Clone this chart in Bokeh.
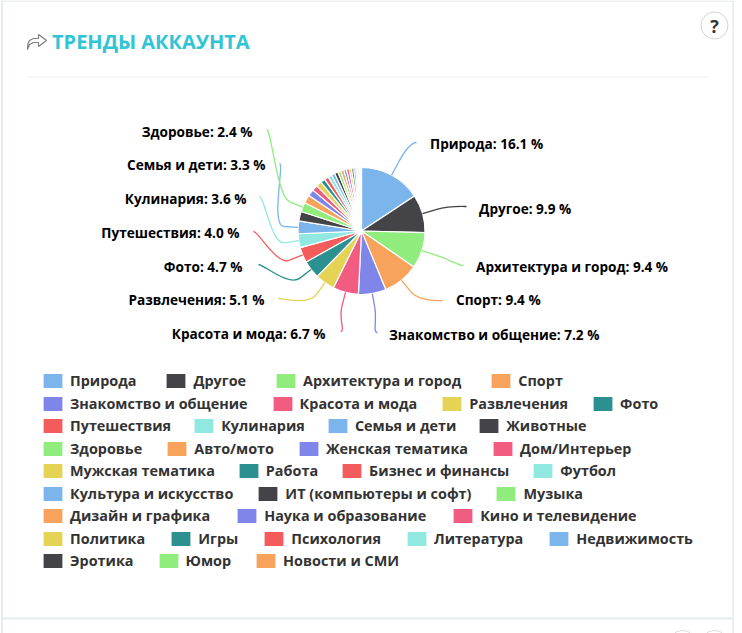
import math
from bokeh.embed import file_html
from bokeh.resources import INLINE
from bokeh.plotting import figure
from bokeh.models import Range1d, ColumnDataSource, Legend, LegendItem
from bokeh.core.properties import value

categories = ["Природа","Другое","Архитектура и город","Спорт","Знакомство и общение","Красота и мода",
    "Развлечения","Фото","Путешествия","Кулинария","Семья и дети","Животные","Здоровье","Авто/мото",
    "Женская тематика","Дом/Интерьер","Мужская тематика","Работа","Бизнес и финансы","Футбол",
    "Культура и искусство","ИТ (компьютеры и софт)","Музыка","Дизайн и графика","Наука и образование",
    "Кино и телевидение","Политика","Игры","Психология","Литература","Недвижимость","Эротика","Юмор","Новости и СМИ"]
shares = [16.1,9.9,9.4,9.4,7.2,6.7,5.1,4.7,4.0,3.6,3.3,2.5,2.4,2.2,1.7,1.5,1.4,1.2,1.1,1.0,0.9,0.9,0.8,0.8,
    0.7,0.7,0.6,0.6,0.5,0.4,0.4,0.3,0.2,0.2]
palette = ["#7cb5ec","#434348","#90ed7d","#f7a35c","#8085e9","#f15c80","#e4d354","#2b908f","#f45b5b","#91e8e1"]
legend_rows = [4,4,4,4,4,3,3,5,3]
legend_gaps = [27,22,20,22,21,22,24,23,22]

W, H = 742, 633
CX, CY, R = 361, 230.5, 63.5
def Y(py):
    return H - py

# label layout: category index -> text anchor, connector start, side
label_layout = {
    0:(429.5,143,416,142,"left"), 1:(478.5,208,466,206,"left"), 2:(475.5,266,463,265,"left"), 3:(455.5,299,442,300,"left"),
    4:(388.5,334,377,332,"left"), 5:(325,333,340,331,"right"), 6:(264,299,278,298,"right"), 7:(242,266,258,264,"right"),
    8:(239,232,253,231,"right"), 9:(246,198,259,196,"right"), 10:(265,164,279,163,"right"), 12:(252,131,266,129,"right"),
}
ELBOW = 14

p = figure(width=W, height=H, output_backend="svg", toolbar_location=None, min_border=0,
           x_range=Range1d(0, W), y_range=Range1d(0, H), outline_line_color=None)
p.axis.visible = False
p.grid.visible = False
p.styles = {"position": "absolute", "left": "0px", "top": "0px"}

# card frame
BORDER = "#e6ebf1"
p.segment(x0=[1.5,732.5,1.5,1.5], y0=[Y(0),Y(0),Y(0.5),Y(618)], x1=[1.5,732.5,732.5,732.5], y1=[Y(633),Y(633),Y(0.5),Y(618)],
          line_color=BORDER, line_width=[2,1.5,1.5,2])
p.segment(x0=[27], y0=[Y(76.5)], x1=[708], y1=[Y(76.5)], line_color="#eef0f4", line_width=1)
p.scatter(x=[682,714], y=[Y(644),Y(644)], size=28, fill_color=None, line_color="#d9d9d9", line_width=1)

# title
p.line(x=[27,27.5,29,33,38,38,46,38,38,33,29,27], y=[Y(v) for v in [49,43,40,38,38,34,40,46,42,42,44,49]],
       line_color="#7d7d88", line_width=1.2)
p.text(x=[51.5], y=[Y(40.5)], text=["ТРЕНДЫ АККАУНТА"], text_font=value("Open Sans"), text_font_style="bold",
       text_font_size="20px", text_color="#2fc4d6", text_baseline="middle")

# help button
p.scatter(x=[714], y=[Y(25)], size=27, fill_color="#ffffff", line_color="#d4d4d4", line_width=1)
p.text(x=[714], y=[Y(25)], text=["?"], text_font=value("Open Sans"), text_font_style="bold", text_font_size="18px",
       text_color="#333333", text_align="center", text_baseline="middle")

# pie
total = sum(shares)
starts, ends, cum = [], [], 0.0
mids = []
for s in shares:
    a0 = math.pi/2 - 2*math.pi*cum/total
    cum += s
    a1 = math.pi/2 - 2*math.pi*cum/total
    starts.append(a0); ends.append(a1); mids.append((a0+a1)/2)
colors = [palette[i % len(palette)] for i in range(len(categories))]
src = ColumnDataSource(dict(x=[CX]*len(shares), y=[Y(CY)]*len(shares), start=starts, end=ends, color=colors, name=categories))
pie = p.wedge(x="x", y="y", radius=R, start_angle="start", end_angle="end", direction="clock",
              fill_color="color", line_color="#ffffff", line_width=1.2, source=src)

# connectors
for i, (tx, ty, sx, sy, align) in label_layout.items():
    ux, uy = math.cos(mids[i]), math.sin(mids[i])
    ex, ey = CX + R*ux, Y(CY) + R*uy
    ox, oy = CX + (R+ELBOW)*ux, Y(CY) + (R+ELBOW)*uy
    c2x, c2y = CX + (R+2*ELBOW)*ux, Y(CY) + (R+2*ELBOW)*uy
    c1x = sx + (-5 if align == "left" else 5)
    p.bezier(x0=[sx], y0=[Y(sy)], x1=[ox], y1=[oy], cx0=[c1x], cy0=[Y(sy)], cx1=[c2x], cy1=[c2y],
             line_color=colors[i], line_width=1.3)
    p.segment(x0=[ox], y0=[oy], x1=[ex], y1=[ey], line_color=colors[i], line_width=1.3)
    p.text(x=[tx], y=[Y(ty)], text=[f"{categories[i]}: {shares[i]} %"], text_font=value("Open Sans"),
           text_font_style="bold", text_font_size="13.6px", text_color="#000000", text_align=align, text_baseline="middle")

# legend rows
idx = 0
for r, n in enumerate(legend_rows):
    items = [LegendItem(label=categories[j], renderers=[pie], index=j) for j in range(idx, idx+n)]
    idx += n
    leg = Legend(items=items, orientation="horizontal", location=(40, H - (380.5 + r*22.5) - 10),
                 margin=0, padding=0, spacing=legend_gaps[r], label_standoff=5, glyph_width=25, glyph_height=19,
                 label_height=20, background_fill_alpha=0, border_line_color=None,
                 label_text_font="Open Sans", label_text_font_style="bold", label_text_font_size="14.4px",
                 label_text_color="#333333", label_text_baseline="middle")
    p.add_layout(leg)

open("out.html", "w").write(file_html(p, INLINE))
